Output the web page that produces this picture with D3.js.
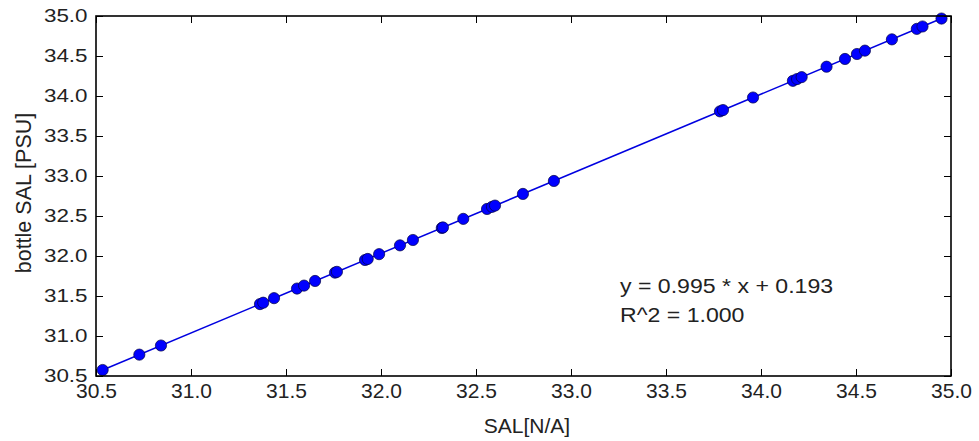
<!DOCTYPE html>
<html><head><meta charset="utf-8">
<script src="https://cdn.jsdelivr.net/npm/d3@7"></script>
<style>
body{margin:0;background:#fff}
svg text{font-family:"Liberation Sans",Arial,sans-serif;fill:#222}
</style>
</head><body>
<svg id="chart" width="979" height="441"></svg>
<script>
// ---- data ----
const salSensor = [30.535, 30.728, 30.842, 31.363, 31.380, 31.437, 31.558, 31.595, 31.653, 31.758,
  31.768, 31.916, 31.930, 31.990, 32.100, 32.168, 32.320, 32.326, 32.433, 32.558,
  32.584, 32.600, 32.747, 32.910, 33.784, 33.800, 33.958, 34.168, 34.190, 34.214,
  34.345, 34.442, 34.505, 34.547, 34.689, 34.820, 34.850, 34.950];
const salBottle = [30.575, 30.767, 30.881, 31.399, 31.416, 31.473, 31.593, 31.630, 31.688, 31.792,
  31.802, 31.950, 31.963, 32.023, 32.133, 32.200, 32.351, 32.357, 32.464, 32.588,
  32.614, 32.630, 32.776, 32.938, 33.808, 33.824, 33.981, 34.190, 34.212, 34.236,
  34.366, 34.463, 34.525, 34.567, 34.708, 34.839, 34.869, 34.968];
const xTicks = [30.5, 31.0, 31.5, 32.0, 32.5, 33.0, 33.5, 34.0, 34.5, 35.0];
const yTicks = [30.5, 31.0, 31.5, 32.0, 32.5, 33.0, 33.5, 34.0, 34.5, 35.0];
const fitSlope = 0.995, fitIntercept = 0.193, fitR2 = 1.000;
const xLabel = "SAL[N/A]", yLabel = "bottle SAL [PSU]";

// ---- layout ----
const L = 96, R = 951, T = 16, B = 376;
const svg = d3.select("#chart");
const x = d3.scaleLinear().domain([30.5, 35.0]).range([L, R]);
const y = d3.scaleLinear().domain([30.5, 35.0]).range([B, T]);
const fmt = d3.format(".1f");

// regression line
const x0 = d3.min(salSensor), x1 = d3.max(salSensor);
svg.append("line")
  .attr("x1", x(x0)).attr("y1", y(fitSlope * x0 + fitIntercept))
  .attr("x2", x(x1)).attr("y2", y(fitSlope * x1 + fitIntercept))
  .attr("stroke", "#0000e0").attr("stroke-width", 1.5);

// points
svg.append("g").selectAll("circle").data(salSensor).join("circle")
  .attr("cx", d => x(d)).attr("cy", (d, i) => y(salBottle[i]))
  .attr("r", 5.6).attr("fill", "#0000ff").attr("stroke", "#000040").attr("stroke-width", 0.7);

// axes (ticks inside)
const gB = svg.append("g").attr("transform", `translate(0,${B})`)
  .call(d3.axisBottom(x).tickValues(xTicks).tickSize(-7).tickFormat(fmt));
gB.selectAll("text").attr("y", 22).attr("dy", null).attr("font-size", 21).attr("fill", "#222");
const gT = svg.append("g").attr("transform", `translate(0,${T})`)
  .call(d3.axisTop(x).tickValues(xTicks).tickSize(-7).tickFormat(""));
const gL = svg.append("g").attr("transform", `translate(${L},0)`)
  .call(d3.axisLeft(y).tickValues(yTicks).tickSize(-7).tickFormat(fmt));
gL.selectAll("text").attr("x", 0).attr("dy", "0.32em").attr("font-size", 17.5)
  .attr("transform", "translate(-8.5,0) scale(1.28,1)").attr("fill", "#222");
const gR = svg.append("g").attr("transform", `translate(${R},0)`)
  .call(d3.axisRight(y).tickValues(yTicks).tickSize(-7).tickFormat(""));
[gB, gT, gL, gR].forEach(g => {
  g.select(".domain").remove();
  g.selectAll("line").attr("stroke", "#000").attr("stroke-width", 1);
});

// frame
svg.append("rect").attr("x", L).attr("y", T).attr("width", R - L).attr("height", B - T)
  .attr("fill", "none").attr("stroke", "#000").attr("stroke-width", 1.6);

// labels
svg.append("text").attr("x", 527).attr("y", 433).attr("text-anchor", "middle")
  .attr("font-size", 21).text(xLabel);
svg.append("text").attr("transform", "translate(31,193) rotate(-90)").attr("text-anchor", "middle")
  .attr("font-size", 21.5).text(yLabel);

// annotation
svg.append("text").attr("x", 620).attr("y", 293).attr("font-size", 21)
  .attr("transform", "translate(620,0) scale(1.1,1) translate(-620,0)")
  .text(`y = ${fitSlope.toFixed(3)} * x + ${fitIntercept.toFixed(3)}`);
svg.append("text").attr("x", 620).attr("y", 322).attr("font-size", 21)
  .attr("transform", "translate(620,0) scale(1.1,1) translate(-620,0)")
  .text(`R^2 = ${fitR2.toFixed(3)}`);
</script>
</body></html>
